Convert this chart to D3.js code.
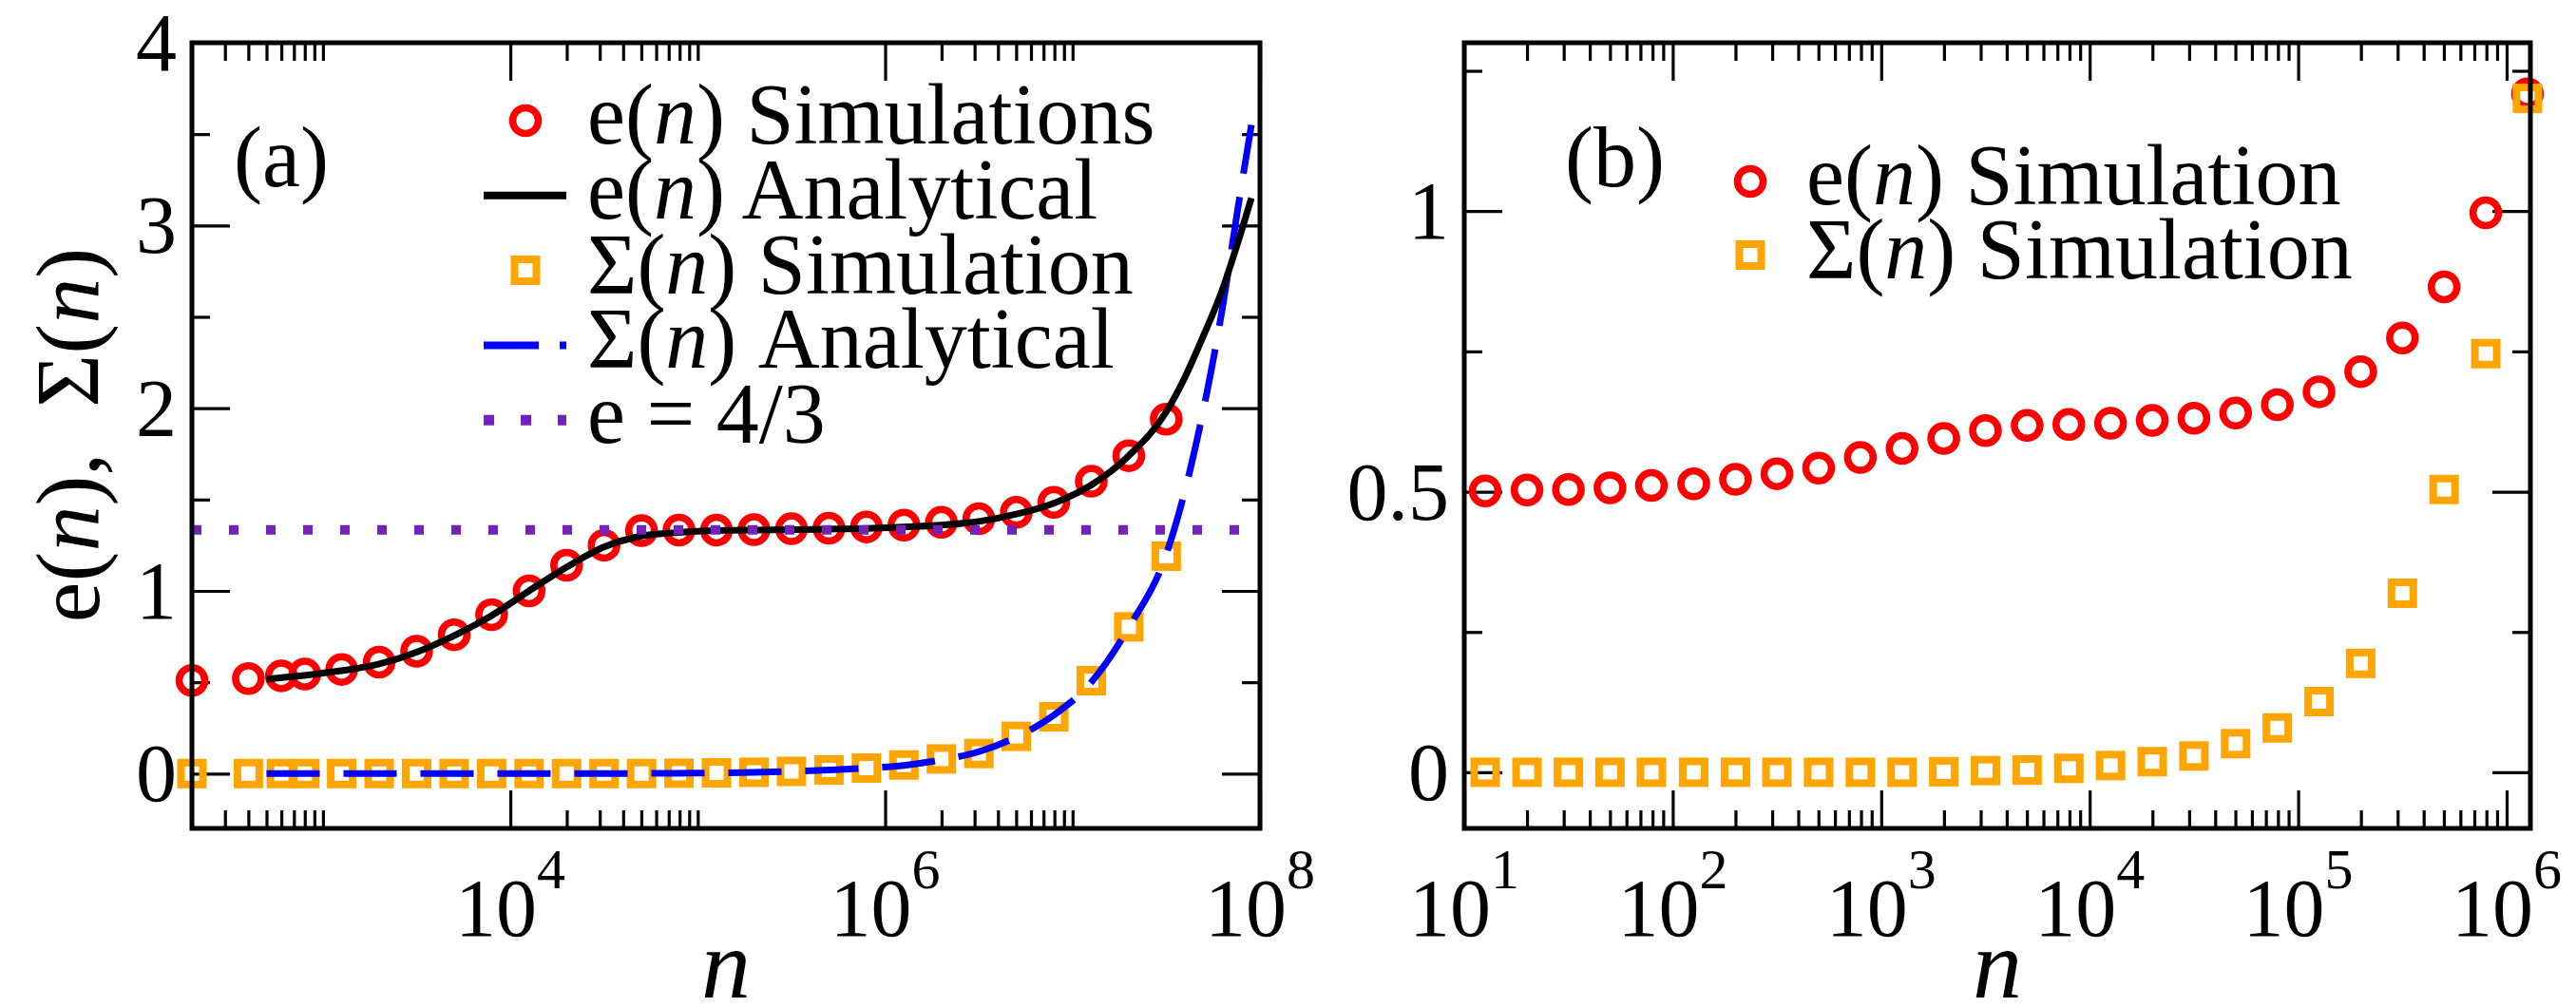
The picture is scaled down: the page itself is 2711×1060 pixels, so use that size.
<!DOCTYPE html>
<html><head><meta charset="utf-8">
<script src="https://cdn.jsdelivr.net/npm/d3@7"></script>
<style>
html,body{margin:0;padding:0;background:#fff;}
svg{display:block;}
</style>
</head><body>
<svg id="chart" width="2711" height="1060"></svg>
<script>
// ---------------- Panel (a) data ----------------
const nSimA = [200, 400, 600, 800, 1259, 1995, 3162, 5012, 7943, 12589, 19953, 31623, 50119,
  79433, 125893, 199526, 316228, 501187, 794328, 1258925, 1995262, 3162278, 5011872, 7943282,
  12589254, 19952623, 31622777];
const eSimA = [0.51, 0.52, 0.535, 0.545, 0.57, 0.61, 0.67, 0.76, 0.87, 1.00, 1.14, 1.25, 1.33,
  1.333, 1.333, 1.335, 1.34, 1.343, 1.35, 1.36, 1.375, 1.395, 1.43, 1.485, 1.60, 1.74, 1.94];
const sigmaSimA = [0, 0, 0, 0, 0, 0, 0, 0, 0, 0, 0, 0, 0,
  0.002, 0.004, 0.007, 0.012, 0.02, 0.03, 0.047, 0.08, 0.11, 0.204, 0.311, 0.508, 0.803, 1.19];
const nCurveA = [500, 1000, 2000, 3162, 5012, 7943, 12589, 19953, 31623, 50119, 79433, 125893,
  199526, 316228, 501187, 794328, 1258925, 1995262, 3162278, 5011872, 7943282, 12589254,
  19952623, 31622777, 39810717, 50118723, 63095734, 75857758, 90000000];
const eCurveA = [0.517, 0.55, 0.60, 0.665, 0.755, 0.865, 1.00, 1.13, 1.24, 1.30, 1.32, 1.33,
  1.333, 1.335, 1.338, 1.342, 1.35, 1.36, 1.38, 1.42, 1.48, 1.58, 1.74, 1.98, 2.17, 2.4, 2.65,
  2.9, 3.15];
const sigmaCurveA = [0, 0, 0, 0, 0, 0, 0, 0, 0, 0.001, 0.002, 0.004, 0.007, 0.012, 0.02, 0.03,
  0.045, 0.075, 0.12, 0.2, 0.32, 0.50, 0.80, 1.20, 1.55, 2.0, 2.55, 3.08, 3.55];
const eConstA = 4 / 3;
const xMajorA = [1e4, 1e6, 1e8];
const xExpA = ["4", "6", "8"];
const xMinorA = [300, 400, 500, 600, 700, 800, 900, 1000,
  2e4, 3e4, 4e4, 5e4, 6e4, 7e4, 8e4, 9e4, 1e5,
  2e6, 3e6, 4e6, 5e6, 6e6, 7e6, 8e6, 9e6, 1e7];
const yMajorA = [0, 1, 2, 3, 4];
const yLabelsA = ["0", "1", "2", "3", "4"];
const yMinorA = [0.5, 1.5, 2.5, 3.5];

// ---------------- Panel (b) data ----------------
const nSimB = [12.6, 20, 31.6, 50, 79, 126, 200, 316, 501, 794, 1259, 1995, 3162, 5012, 7943,
  12589, 19953, 31623, 50119, 79433, 125893, 199526, 316228, 501187, 794328, 1258925];
const eSimB = [0.5015, 0.503, 0.504, 0.507, 0.511, 0.514, 0.522, 0.532, 0.542, 0.561, 0.577,
  0.595, 0.609, 0.618, 0.620, 0.622, 0.627, 0.631, 0.640, 0.655, 0.678, 0.714, 0.774, 0.865,
  0.997, 1.209];
const sigmaSimB = [0, 0, 0, 0, 0, 0, 0, 0, 0, 0, 0, 0.001, 0.003, 0.004, 0.007, 0.012, 0.019,
  0.029, 0.051, 0.079, 0.126, 0.194, 0.319, 0.504, 0.746, 1.201];
const xMajorB = [1e1, 1e2, 1e3, 1e4, 1e5, 1e6];
const xExpB = ["1", "2", "3", "4", "5", "6"];
const xMinorB = [20, 30, 40, 50, 60, 70, 80, 90, 200, 300, 400, 500, 600, 700, 800, 900,
  2000, 3000, 4000, 5000, 6000, 7000, 8000, 9000, 2e4, 3e4, 4e4, 5e4, 6e4, 7e4, 8e4, 9e4,
  2e5, 3e5, 4e5, 5e5, 6e5, 7e5, 8e5, 9e5];
const yMajorB = [0, 0.5, 1];
const yLabelsB = ["0", "0.5", "1"];
const yMinorB = [0.25, 0.75, 1.25];

// ---------------- Legends ----------------
const legendA = [
  {pre: "e(", post: ") Simulations", type: "circle"},
  {pre: "e(", post: ") Analytical", type: "solid"},
  {pre: "\u03A3(", post: ") Simulation", type: "square"},
  {pre: "\u03A3(", post: ") Analytical", type: "dash"},
  {pre: "e = 4/3", post: null, type: "dot"}
];
const legendB = [
  {pre: "e(", post: ") Simulation", type: "circle"},
  {pre: "\u03A3(", post: ") Simulation", type: "square"}
];

const RED = "#ff0000", ORANGE = "#ffa500", BLUE = "#0000ff", INDIGO = "#7221bc";
const svg = d3.select("#chart");
svg.append("rect").attr("width", 2711).attr("height", 1060).attr("fill", "#fff");

const TOP = 45, BOTTOM = 872;

function txt(g) {
  return g.append("text").style("font-family", "Liberation Serif").attr("fill", "#000");
}
function drawCircle(g, cx, cy) {
  g.append("circle").attr("cx", cx).attr("cy", cy).attr("r", 13.5)
    .attr("fill", "none").attr("stroke", RED).attr("stroke-width", 7.5);
}
function drawSquare(g, cx, cy) {
  g.append("rect").attr("x", cx - 11.5).attr("y", cy - 11.5).attr("width", 23).attr("height", 23)
    .attr("fill", "none").attr("stroke", ORANGE).attr("stroke-width", 8);
}

function panel(cfg) {
  const g = svg.append("g");
  const x = d3.scaleLog().domain(cfg.xDomain).range(cfg.xRange);
  const y = d3.scaleLinear().domain(cfg.yDomain).range([BOTTOM, TOP]);
  const [x0, x1] = cfg.xRange;

  function tickAxis(axis, tf, len, vals) {
    const a = g.append("g").attr("transform", tf)
      .call(axis.tickValues(vals).tickSize(-len).tickFormat(""));
    a.select(".domain").remove();
    a.selectAll("line").attr("stroke", "#000").attr("stroke-width", 3.2);
  }
  tickAxis(d3.axisBottom(x), `translate(0,${BOTTOM})`, 40, cfg.xMajor);
  tickAxis(d3.axisBottom(x), `translate(0,${BOTTOM})`, 19, cfg.xMinor);
  tickAxis(d3.axisTop(x), `translate(0,${TOP})`, 40, cfg.xMajor);
  tickAxis(d3.axisTop(x), `translate(0,${TOP})`, 19, cfg.xMinor);
  tickAxis(d3.axisLeft(y), `translate(${x0},0)`, 40, cfg.yMajor);
  tickAxis(d3.axisLeft(y), `translate(${x0},0)`, 19, cfg.yMinor);
  tickAxis(d3.axisRight(y), `translate(${x1},0)`, 40, cfg.yMajor);
  tickAxis(d3.axisRight(y), `translate(${x1},0)`, 19, cfg.yMinor);

  cfg.yMajor.forEach((v, i) => {
    txt(g).attr("x", x0 - 16).attr("y", y(v) + 29)
      .attr("text-anchor", "end").attr("font-size", 86).text(cfg.yLabels[i]);
  });
  cfg.xMajor.forEach((v, i) => {
    const t = txt(g).attr("x", x(v)).attr("y", 985)
      .attr("text-anchor", "middle").attr("font-size", 86);
    t.append("tspan").text("10");
    t.append("tspan").attr("dy", -50).attr("font-size", 60).text(cfg.xExp[i]);
  });
  txt(g).attr("x", (x0 + x1) / 2).attr("y", 1050).attr("text-anchor", "middle")
    .attr("font-size", 104).attr("font-style", "italic").text("n");

  txt(g).attr("x", cfg.labelX).attr("y", 196).attr("font-size", 90).text(cfg.label);

  cfg.nSim.forEach((n, i) => drawCircle(g, x(n), y(cfg.eSim[i])));
  cfg.nSim.forEach((n, i) => drawSquare(g, x(n), y(cfg.sigmaSim[i])));

  if (cfg.nCurve) {
    const line = d3.line().x(d => x(d[0])).y(d => y(d[1])).curve(d3.curveMonotoneX);
    g.append("path").datum(cfg.nCurve.map((n, i) => [n, cfg.sigmaCurve[i]]))
      .attr("d", line).attr("fill", "none").attr("stroke", BLUE).attr("stroke-width", 7)
      .attr("stroke-dasharray", "56 25");
    g.append("path").datum(cfg.nCurve.map((n, i) => [n, cfg.eCurve[i]]))
      .attr("d", line).attr("fill", "none").attr("stroke", "#000").attr("stroke-width", 7);
    g.append("line").attr("x1", x(cfg.xDomain[0])).attr("x2", x(cfg.xDomain[1]))
      .attr("y1", y(cfg.eConst)).attr("y2", y(cfg.eConst))
      .attr("stroke", INDIGO).attr("stroke-width", 10).attr("stroke-dasharray", "10 29");
  }

  g.append("rect").attr("x", x0).attr("y", TOP).attr("width", x1 - x0).attr("height", BOTTOM - TOP)
    .attr("fill", "none").attr("stroke", "#000").attr("stroke-width", 5);

  const L = cfg.legend;
  cfg.legendItems.forEach((it, i) => {
    const by = L.y0 + L.dy * i;
    const sy = by - 24;
    if (it.type === "circle") drawCircle(g, L.sx, sy);
    if (it.type === "square") drawSquare(g, L.sx, sy);
    if (it.type === "solid") g.append("line").attr("x1", L.sx - 44).attr("x2", L.sx + 43)
      .attr("y1", sy).attr("y2", sy).attr("stroke", "#000").attr("stroke-width", 8);
    if (it.type === "dash") g.append("line").attr("x1", L.sx - 44).attr("x2", L.sx + 43)
      .attr("y1", sy).attr("y2", sy).attr("stroke", BLUE).attr("stroke-width", 8)
      .attr("stroke-dasharray", "58 22");
    if (it.type === "dot") g.append("line").attr("x1", L.sx - 44).attr("x2", L.sx + 43)
      .attr("y1", sy).attr("y2", sy).attr("stroke", INDIGO).attr("stroke-width", 11)
      .attr("stroke-dasharray", "11 28");
    const t = txt(g).attr("x", L.tx).attr("y", by).attr("font-size", 90);
    t.append("tspan").text(it.pre);
    if (it.post !== null) {
      t.append("tspan").attr("font-style", "italic").text("n");
      t.append("tspan").text(it.post);
    }
  });
  return g;
}

panel({
  xDomain: [200, 1e8], xRange: [202, 1326], yDomain: [-0.3, 4],
  xMajor: xMajorA, xExp: xExpA, xMinor: xMinorA,
  yMajor: yMajorA, yLabels: yLabelsA, yMinor: yMinorA,
  nSim: nSimA, eSim: eSimA, sigmaSim: sigmaSimA,
  nCurve: nCurveA, eCurve: eCurveA, sigmaCurve: sigmaCurveA, eConst: eConstA,
  label: "(a)", labelX: 246,
  legend: {sx: 553, tx: 618, y0: 151, dy: 78.8},
  legendItems: legendA
});

panel({
  xDomain: [10, 1.3e6], xRange: [1541, 2663], yDomain: [-0.1, 1.3],
  xMajor: xMajorB, xExp: xExpB, xMinor: xMinorB,
  yMajor: yMajorB, yLabels: yLabelsB, yMinor: yMinorB,
  nSim: nSimB, eSim: eSimB, sigmaSim: sigmaSimB,
  label: "(b)", labelX: 1647,
  legend: {sx: 1842, tx: 1901, y0: 215, dy: 77.5},
  legendItems: legendB
});

const yt = txt(svg).attr("transform", "translate(104,458) rotate(-90)")
  .attr("text-anchor", "middle").attr("font-size", 96);
yt.append("tspan").text("e(");
yt.append("tspan").attr("font-style", "italic").text("n");
yt.append("tspan").text("),\u00A0 \u03A3(");
yt.append("tspan").attr("font-style", "italic").text("n");
yt.append("tspan").text(")");
</script>
</body></html>
